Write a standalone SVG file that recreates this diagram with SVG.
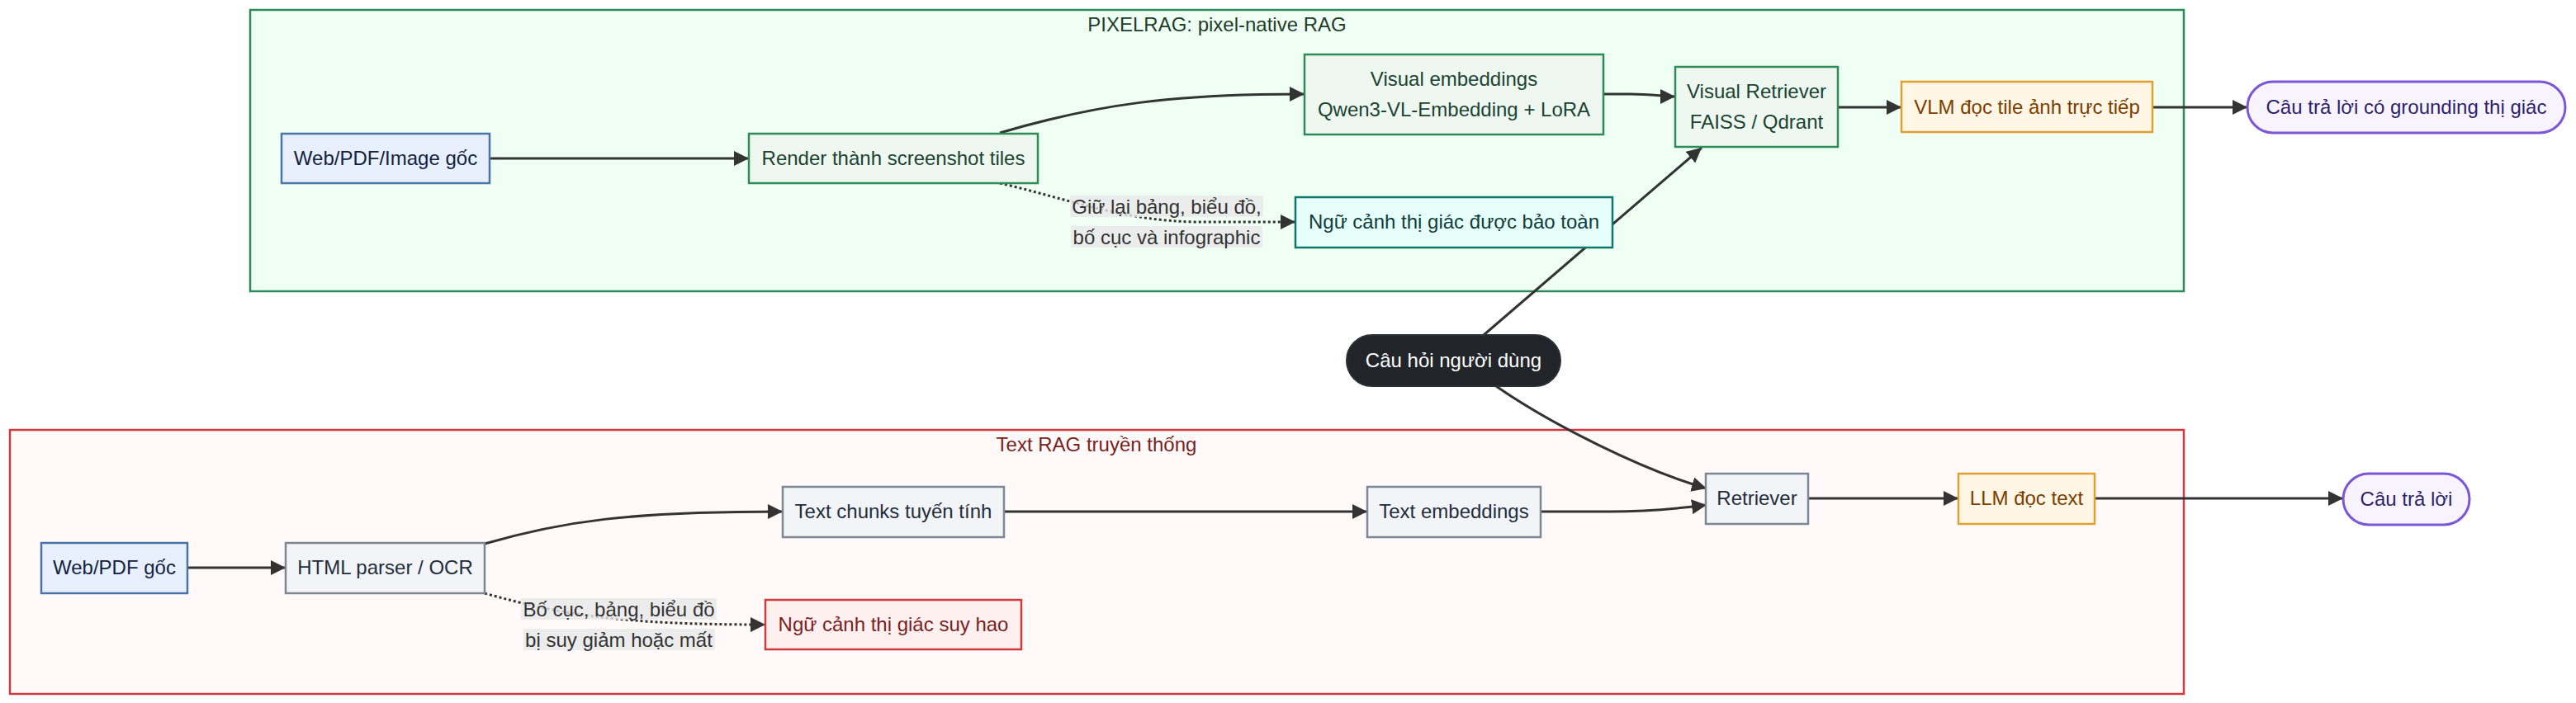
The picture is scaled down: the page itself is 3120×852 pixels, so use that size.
<svg xmlns="http://www.w3.org/2000/svg" width="3120" height="852" viewBox="0 0 3120 852">
<style>
text{font-family:"Liberation Sans",Arial,sans-serif;font-size:24px;text-anchor:middle}
.cl-pix{fill:#effff4;stroke:#2f8a5a;stroke-width:2.5}
.cl-txt{fill:#fffaf9;stroke:#d33a3d;stroke-width:2.5}
.t-pix{fill:#1f3d2b}
.t-txt{fill:#7a1f1f}
.src rect{fill:#e8f0fe;stroke:#4a74a8;stroke-width:2.5}
.src text{fill:#13233f}
.grn rect{fill:#eef7f0;stroke:#2e8b57;stroke-width:2.5}
.grn text{fill:#1b4332}
.teal rect{fill:#e6fffb;stroke:#0f766e;stroke-width:2.5}
.teal text{fill:#0f3d3a}
.amb rect{fill:#fff6e5;stroke:#e0a030;stroke-width:2.5}
.amb text{fill:#7a3e00}
.pur rect{fill:#f8f4ff;stroke:#7b56d6;stroke-width:3}
.pur text{fill:#2e1f6b}
.gry rect{fill:#f2f4f7;stroke:#7d8794;stroke-width:2.5}
.gry text{fill:#1f2d3d}
.red rect{fill:#fff0f0;stroke:#d03a3a;stroke-width:2.5}
.red text{fill:#7a1f1f}
.q rect{fill:#212529;stroke:#2b3036;stroke-width:2}
.q text{fill:#ffffff}
.e{fill:none;stroke:#333333;stroke-width:3;marker-end:url(#arr)}
.d{fill:none;stroke:#333333;stroke-width:3;stroke-dasharray:3 3;marker-end:url(#arr)}
.lbg{fill:#e8e8e8;fill-opacity:0.8}
.lt{fill:#333333}
</style>
<defs>
<marker id="arr" viewBox="0 0 10 10" refX="10" refY="5" markerUnits="userSpaceOnUse" markerWidth="18" markerHeight="18" orient="auto">
<path d="M0,0 L10,5 L0,10 z" fill="#333333"/>
</marker>
</defs>
<rect width="3120" height="852" fill="#ffffff"/>
<g id="cluster-pixelrag">
<rect class="cl-pix" x="303" y="12" width="2342" height="341"/>
<text class="t-pix" x="1474" y="38">PIXELRAG: pixel-native RAG</text>
</g>
<g id="cluster-textrag">
<rect class="cl-txt" x="12" y="521" width="2633" height="320"/>
<text class="t-txt" x="1328" y="547">Text RAG truyền thống</text>
</g>
<g id="connectors">
<path class="e" d="M593,192 L907,192"/>
<path class="e" d="M1211,161 C1330,126 1420,114 1580,114"/>
<path class="d" d="M1211,222 C1290,240 1360,268 1450,269 L1569,269"/>
<path class="e" d="M1942,114 L1975,114 C2000,114 2015,117 2029,117"/>
<path class="e" d="M1797,406 L2061,179"/>
<path class="e" d="M2226,130 L2303,130"/>
<path class="e" d="M2607,130 L2722,130"/>
<path class="e" d="M1812,468 C1880,515 1990,570 2067,592"/>
<path class="e" d="M1216,620 L1656,620"/>
<path class="e" d="M1866,620 L1950,620 C2000,620 2035,616 2067,612"/>
<path class="e" d="M227,688 L346,688"/>
<path class="e" d="M587,659 C680,632 760,620 948,620"/>
<path class="d" d="M587,719 C680,745 750,757 927,757"/>
<path class="e" d="M2190,604 L2372,604"/>
<path class="e" d="M2537,604 L2838,604"/>
<g id="label-preserve">
<rect class="lbg" x="1296" y="237" width="234" height="26"/>
<rect class="lbg" x="1297" y="274" width="232" height="26"/>
<text class="lt" x="1413" y="259">Giữ lại bảng, biểu đồ,</text>
<text class="lt" x="1413" y="296">bố cục và infographic</text>
</g>
<g id="label-degrade">
<rect class="lbg" x="631" y="725" width="237" height="26"/>
<rect class="lbg" x="634" y="762" width="232" height="26"/>
<text class="lt" x="749.5" y="747">Bố cục, bảng, biểu đồ</text>
<text class="lt" x="749.5" y="784">bị suy giảm hoặc mất</text>
</g>
</g>
<g id="node-web-image" class="src">
<rect x="341" y="162" width="252" height="60"/>
<text x="467" y="200">Web/PDF/Image gốc</text>
</g>
<g id="node-render" class="grn">
<rect x="907" y="162" width="350" height="60"/>
<text x="1082" y="200">Render thành screenshot tiles</text>
</g>
<g id="node-visual-emb" class="grn">
<rect x="1580" y="66" width="362" height="97"/>
<text x="1761" y="104">Visual embeddings</text>
<text x="1761" y="141">Qwen3-VL-Embedding + LoRA</text>
</g>
<g id="node-visual-retriever" class="grn">
<rect x="2029" y="81" width="197" height="97"/>
<text x="2127.5" y="119">Visual Retriever</text>
<text x="2127.5" y="156">FAISS / Qdrant</text>
</g>
<g id="node-preserved" class="teal">
<rect x="1569" y="239" width="384" height="61"/>
<text x="1761" y="277">Ngữ cảnh thị giác được bảo toàn</text>
</g>
<g id="node-vlm" class="amb">
<rect x="2303" y="99" width="304" height="61"/>
<text x="2455" y="138">VLM đọc tile ảnh trực tiếp</text>
</g>
<g id="node-answer-visual" class="pur">
<rect x="2722" y="99" width="385" height="62" rx="31" ry="31"/>
<text x="2914.5" y="138">Câu trả lời có grounding thị giác</text>
</g>
<g id="node-query" class="q">
<rect x="1631" y="406" width="259" height="62" rx="31" ry="31"/>
<text x="1760.5" y="445">Câu hỏi người dùng</text>
</g>
<g id="node-web-pdf" class="src">
<rect x="50" y="658" width="177" height="61"/>
<text x="138.5" y="696">Web/PDF gốc</text>
</g>
<g id="node-parser" class="gry">
<rect x="346" y="658" width="241" height="61"/>
<text x="466.5" y="696">HTML parser / OCR</text>
</g>
<g id="node-chunks" class="gry">
<rect x="948" y="590" width="268" height="61"/>
<text x="1082" y="628">Text chunks tuyến tính</text>
</g>
<g id="node-text-emb" class="gry">
<rect x="1656" y="590" width="210" height="61"/>
<text x="1761" y="628">Text embeddings</text>
</g>
<g id="node-degraded" class="red">
<rect x="927" y="727" width="310" height="60"/>
<text x="1082" y="765">Ngữ cảnh thị giác suy hao</text>
</g>
<g id="node-retriever" class="gry">
<rect x="2066" y="574" width="124" height="61"/>
<text x="2128" y="612">Retriever</text>
</g>
<g id="node-llm" class="amb">
<rect x="2372" y="574" width="165" height="61"/>
<text x="2454.5" y="612">LLM đọc text</text>
</g>
<g id="node-answer" class="pur">
<rect x="2838" y="574" width="153" height="62" rx="31" ry="31"/>
<text x="2914.5" y="613">Câu trả lời</text>
</g>
</svg>
